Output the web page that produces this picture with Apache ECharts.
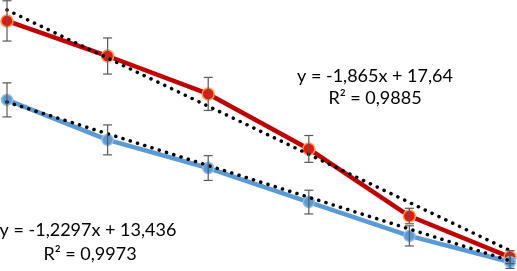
<!DOCTYPE html>
<html><head><meta charset="utf-8">
<script src="https://cdn.jsdelivr.net/npm/echarts@6/dist/echarts.min.js"></script>
<style>html,body{margin:0;padding:0;background:#fff}#c{width:517px;height:271px}</style>
</head><body><div id="c"></div>
<script>
const xValues = [1, 2, 3, 4, 5, 6];
const redValues = [15.35, 13.99, 12.52, 10.39, 7.79, 6.20];
const redErrors = [0.78, 0.70, 0.64, 0.52, 0.30, 0.25];
const blueValues = [12.29, 10.74, 9.65, 8.33, 7.02, 6.01];
const blueErrors = [0.66, 0.58, 0.48, 0.46, 0.39, 0.25];
const redTrend = { slope: -1.865, intercept: 17.64 };
const blueTrend = { slope: -1.2297, intercept: 13.436 };
const redLabel = ['y = -1,865x + 17,64', 'R² = 0,9885'];
const blueLabel = ['y = -1,2297x + 13,436', 'R² = 0,9973'];

const chart = echarts.init(document.getElementById('c'));
const pts = (vals) => xValues.map((x, i) => [x, vals[i]]);
const trendPts = (t) => [xValues[0], xValues[xValues.length - 1]].map(x => [x, t.slope * x + t.intercept]);
const errData = (vals, errs) => xValues.map((x, i) => [x, vals[i] - errs[i], vals[i] + errs[i]]);

function errRender(params, api) {
  const x = api.value(0);
  const lo = api.coord([x, api.value(1)]);
  const hi = api.coord([x, api.value(2)]);
  const w = 4.5;
  const st = { stroke: '#595959', lineWidth: 1.2 };
  return { type: 'group', children: [
    { type: 'line', shape: { x1: lo[0], y1: lo[1], x2: hi[0], y2: hi[1] }, style: st },
    { type: 'line', shape: { x1: lo[0] - w, y1: lo[1], x2: lo[0] + w, y2: lo[1] }, style: st },
    { type: 'line', shape: { x1: hi[0] - w, y1: hi[1], x2: hi[0] + w, y2: hi[1] }, style: st }
  ]};
}

const font = '18px Lato, "Open Sans", sans-serif';
const txt = (x, y, t) => ({ type: 'text', x: x, y: y, style: { text: t, font: font, fill: '#000', align: 'center', verticalAlign: 'middle' } });
chart.setOption({
  animation: false,
  grid: { left: 7, right: 7, top: 0, bottom: 0 },
  xAxis: { type: 'value', min: 1, max: 6, show: false },
  yAxis: { type: 'value', min: 5.66, max: 16.16, show: false },
  series: [
    { type: 'line', data: pts(redValues), z: 2, symbol: 'circle', symbolSize: 12,
      lineStyle: { color: '#c00000', width: 4.5 },
      itemStyle: { color: '#e8170c', borderColor: '#f5a05a', borderWidth: 1.5 } },
    { type: 'line', data: pts(blueValues), z: 2, symbol: 'circle', symbolSize: 11,
      lineStyle: { color: '#5b9bd5', width: 4.5 },
      itemStyle: { color: '#5b9bd5', borderColor: '#8fbde6', borderWidth: 1.5 } },
    { type: 'line', data: trendPts(redTrend), z: 3, symbol: 'none',
      lineStyle: { color: '#000', width: 3.5, type: [0.1, 7.5], cap: 'round' } },
    { type: 'line', data: trendPts(blueTrend), z: 3, symbol: 'none',
      lineStyle: { color: '#000', width: 3.5, type: [0.1, 7.5], cap: 'round' } },
    { type: 'custom', data: errData(redValues, redErrors), renderItem: errRender, z: 4 },
    { type: 'custom', data: errData(blueValues, blueErrors), renderItem: errRender, z: 4 }
  ],
  graphic: [
    txt(375, 76, redLabel[0]),
    txt(375, 98, redLabel[1]),
    txt(88, 230, blueLabel[0]),
    txt(90, 254, blueLabel[1])
  ]
});
</script></body></html>
